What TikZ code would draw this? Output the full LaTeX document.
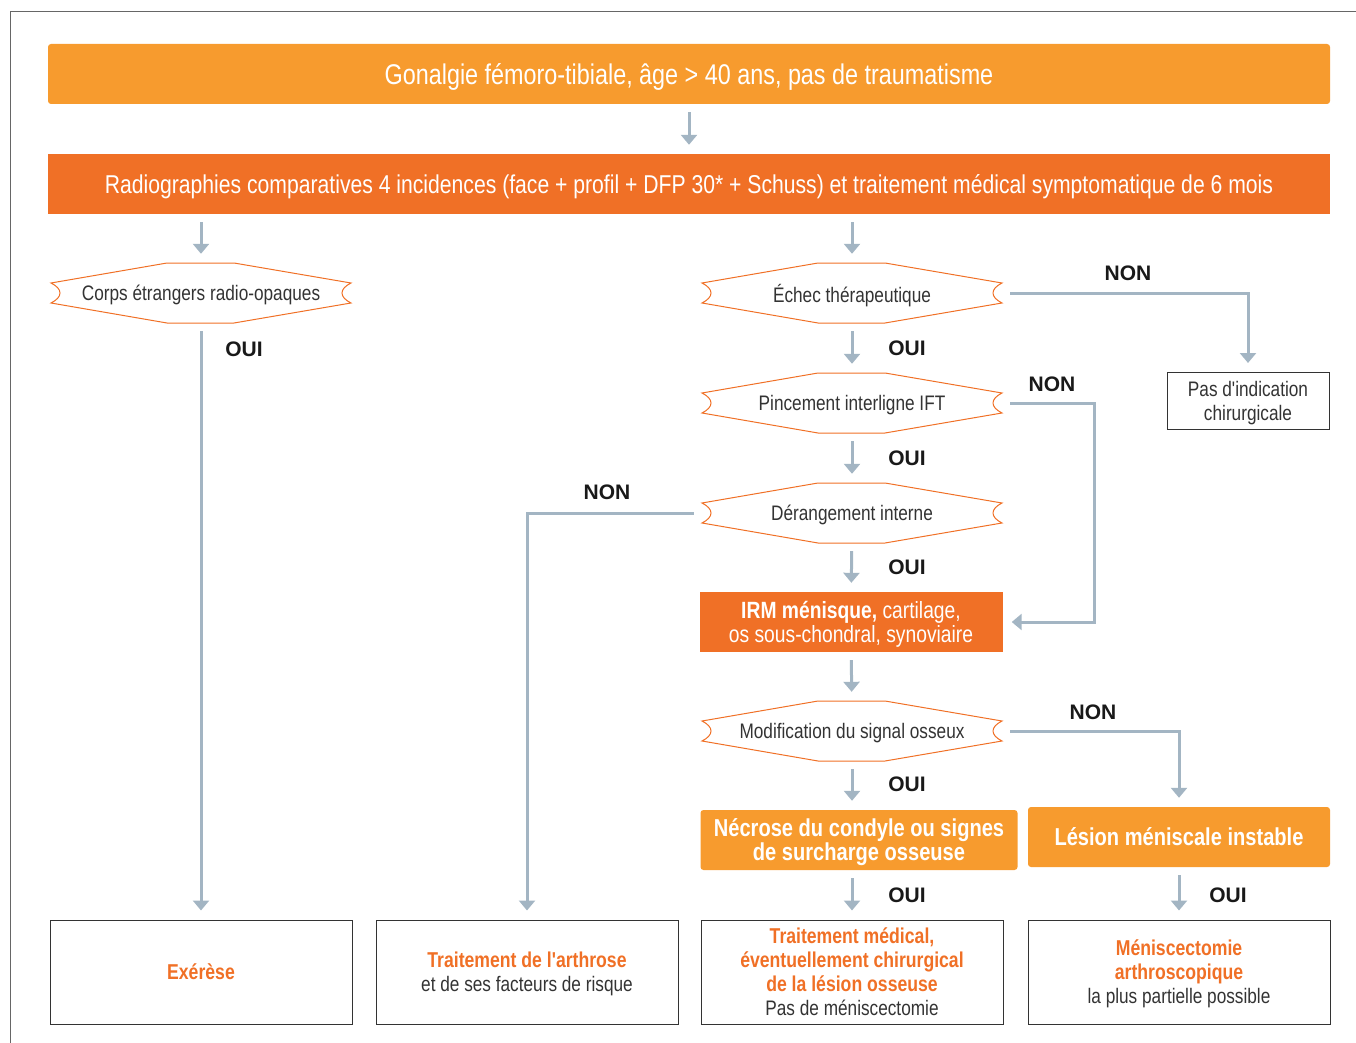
\documentclass[tikz,border=0pt]{standalone}
\usepackage{fontspec}
\setmainfont{Liberation Sans}[FakeStretch=0.82, Ligatures=TeXOff]
\newfontfamily\ouinon{Liberation Sans}
\usepackage{tikz}
\usetikzlibrary{arrows.meta}
\definecolor{orangeclair}{HTML}{F79B2E}
\definecolor{orangefonce}{HTML}{F07026}
\definecolor{fleche}{HTML}{A3B5C3}
\definecolor{texte}{HTML}{333333}
\newcommand{\orgras}[1]{{\color{orangefonce}\bfseries\fontsize{21.5}{24}\selectfont #1}}

\begin{document}
\begin{tikzpicture}[
		x=1pt, y=-1pt,
		titre/.style={fill=orangeclair, text=white, rounded corners=3pt, minimum width=1282pt, minimum height=60pt, text depth=0pt, font=\fontsize{28.5}{30}\selectfont},
		bandeau/.style={fill=orangefonce, text=white, minimum width=1282pt, minimum height=60pt, text depth=0pt, font=\fontsize{25.8}{28}\selectfont},
		choix/.style={minimum width=300pt, minimum height=60pt, inner sep=0pt, text depth=0pt, text=texte, font=\fontsize{21}{24}\selectfont},
		contour/.style={draw=orangefonce, line width=1pt},
		irmbox/.style={fill=orangefonce, text=white, minimum width=303pt, minimum height=60pt, text depth=0pt, align=center, font=\fontsize{23.5}{24}\selectfont},
		resultat/.style={fill=orangeclair, text=white, rounded corners=3pt, minimum height=60pt, text depth=0pt, align=center, font=\bfseries\fontsize{24.5}{24}\selectfont},
		fin/.style={draw=texte, line width=1pt, minimum width=302pt, minimum height=104pt, text depth=0pt, align=center, text=texte, font=\fontsize{21}{24}\selectfont},
		rep/.style={font=\ouinon\bfseries\fontsize{21}{24}\selectfont, text=black!90},
		fl/.style={draw=fleche, line width=3pt, -{Triangle[width=16pt,length=10pt]}, shorten <=8pt, shorten >=9pt}]
	\useasboundingbox (0,0) rectangle (1356,1043);
	%% frame
	\draw[black!60, line width=1pt] (10,1043) |- (1356,12);
	%% top boxes
	\node (gonalgie) at (689,74) [titre] {Gonalgie fémoro-tibiale, âge > 40 ans, pas de traumatisme};
	\node (radio) at (689,184) [bandeau] {Radiographies comparatives 4 incidences (face + profil + DFP 30* + Schuss) et traitement médical symptomatique de 6 mois};
	%% decisions
	\node (corps) at (201,293) [choix] {Corps étrangers radio-opaques};
	\node (echec) at (852,293) [choix] {Échec thérapeutique};
	\node (pincement) at (852,403) [choix] {Pincement interligne IFT};
	\node (derangement) at (852,513) [choix] {Dérangement interne};
	\node (signal) at (852,731) [choix] {Modification du signal osseux};
	\foreach \n in {corps,echec,pincement,derangement,signal}
		\draw[contour] ([shift={(-150,-10)}]\n.center) -- ++(116,-20) -- ++(67,0) -- ++(117,20)
			.. controls +(-12,6) and +(-12,-6) .. ++(0,20) -- ++(-117,20) -- ++(-67,0) -- ++(-116,-20)
			.. controls +(12,-6) and +(12,6) .. cycle;
	%% other boxes
	\node (irm) at (851,622) [irmbox] {{\bfseries IRM ménisque,} cartilage,\\os sous-chondral, synoviaire};
	\node (pasind) at (1248,401) [draw=texte, line width=1pt, minimum width=162pt, minimum height=57pt, text depth=0pt, align=center, text=texte, font=\fontsize{21}{24}\selectfont] {Pas d'indication\\chirurgicale};
	\node (necrose) at (859,840) [resultat, minimum width=317pt] {Nécrose du condyle ou signes\\de surcharge osseuse};
	\node (lesion) at (1179,837) [resultat, minimum width=302pt] {Lésion méniscale instable};
	%% final boxes
	\node (exerese) at (201,972) [fin] {\orgras{Exérèse}};
	\node (arthrose) at (527,972) [fin] {\orgras{Traitement de l'arthrose}\\et de ses facteurs de risque};
	\node (trtmed) at (852,972) [fin] {\orgras{Traitement médical,}\\\orgras{éventuellement chirurgical}\\\orgras{de la lésion osseuse}\\Pas de méniscectomie};
	\node (menisc) at (1179,972) [fin] {\orgras{Méniscectomie}\\\orgras{arthroscopique}\\la plus partielle possible};
	%% arrows
	\draw[fl] (gonalgie) -- (radio);
	\draw[fl] (radio.south -| corps) -- (corps);
	\draw[fl] (radio.south -| echec) -- (echec);
	\draw[fl] (corps) -- (exerese);
	\draw[fl] (echec) -- (pincement);
	\draw[fl] (echec.east) -| (pasind.north);
	\draw[fl] (pincement) -- (derangement);
	\draw[fl] (pincement.east) -- ++(92,0) |- (irm.east);
	\draw[fl] (derangement) -- (irm);
	\draw[fl] (derangement.west) -| (arthrose.north);
	\draw[fl] (irm) -- (signal);
	\draw[fl] (signal.south) -- (signal.south |- necrose.north);
	\draw[fl] (signal.east) -| (lesion.north);
	\draw[fl] (necrose.south -| trtmed) -- (trtmed);
	\draw[fl] (lesion) -- (menisc);
	%% answers
	\node (oui1) at (244,349) [rep] {OUI};
	\node (oui2) at (907,348) [rep] {OUI};
	\node (oui3) at (907,458) [rep] {OUI};
	\node (oui4) at (907,567) [rep] {OUI};
	\node (oui5) at (907,784) [rep] {OUI};
	\node (oui6) at (907,895) [rep] {OUI};
	\node (oui7) at (1228,895) [rep] {OUI};
	\node (non1) at (1128,273) [rep] {NON};
	\node (non2) at (1052,384) [rep] {NON};
	\node (non3) at (607,492) [rep] {NON};
	\node (non4) at (1093,712) [rep] {NON};
\end{tikzpicture}
\end{document}
